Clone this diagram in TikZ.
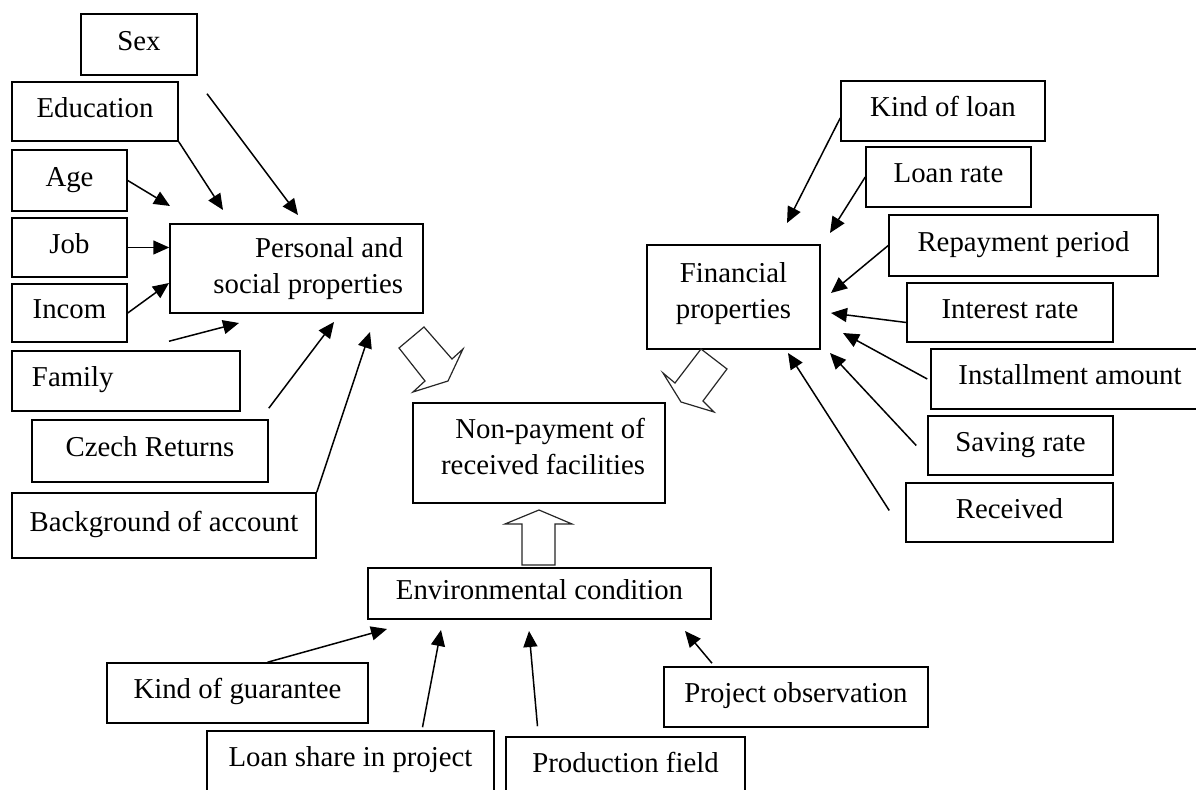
\documentclass[tikz,border=0pt]{standalone}
\usepackage{fontspec}
\setmainfont{Liberation Serif}
\usetikzlibrary{arrows.meta}
\tikzset{
    box/.style={draw, line width=0.75pt, inner sep=0pt, text height=0.7em, text depth=0.12em},
    twobox/.style={draw, line width=0.75pt, inner sep=0pt},
    sz/.style n args={2}{minimum width=#1*0.5pt, minimum height=#2*0.5pt},
    arr/.style={line width=0.75pt, -{Triangle[length=8pt,width=7pt]}},
    fat/.style={line width=0.6pt, draw=black!85, fill=white}
}
\begin{document}
\begin{tikzpicture}[x=0.5pt, y=-0.5pt, font=\fontsize{14.4}{18}\selectfont]
    \useasboundingbox (0,0) rectangle (1196,790);
    \clip (0,0) rectangle (1196,790);
    % personal side
    \node[box, sz={116}{61}] (sex) at (139,44.5) {Sex};
    \node[box, sz={166}{59}] (edu) at (95,111.5) {Education};
    \node[box, sz={115}{61}] (age) at (69.5,180.5) {Age};
    \node[box, sz={115}{59}] (job) at (69.5,247.5) {Job};
    \node[box, sz={115}{58}] (inc) at (69.5,313) {Incom};
    \node[box, sz={228}{60}, text width=94pt, align=flush left] (fam) at (126,381) {Family};
    \node[twobox, sz={253}{89}, text width=106.5pt, align=flush right] (pers) at (296.5,268.5) {Personal and\\social properties};
    \node[box, sz={236}{62}] (czech) at (150,451) {Czech Returns};
    \node[box, sz={304}{65}] (bg) at (164,525.5) {Background of account};
    % middle
    \node[twobox, sz={252}{100}, text width=106pt, align=flush right, text depth=24.8pt] (nonpay) at (539,453) {Non-payment of\\received facilities};
    \node[box, sz={343}{51}] (env) at (539.5,593.5) {Environmental condition};
    % financial side
    \node[twobox, sz={173}{104}, align=flush center, text depth=6.5pt] (fin) at (733.5,297) {Financial\\properties};
    \node[box, sz={204}{60}] (kloan) at (943,111) {Kind of loan};
    \node[box, sz={165}{60}] (lrate) at (948.5,177) {Loan rate};
    \node[box, sz={269}{61}] (repay) at (1023.5,245.5) {Repayment period};
    \node[box, sz={206}{59}] (irate) at (1010,312.5) {Interest rate};
    \node[box, sz={278}{60}] (inst) at (1070,379) {Installment amount};
    \node[box, sz={185}{59}] (srate) at (1020.5,445.5) {Saving rate};
    \node[box, sz={207}{59}] (recv) at (1009.5,512.5) {Received};
    % environment side
    \node[box, sz={261}{60}] (guar) at (237.5,693) {Kind of guarantee};
    \node[box, sz={287}{60}] (share) at (350.5,761) {Loan share in project};
    \node[box, sz={239}{60}] (prod) at (625.5,767) {Production field};
    \node[box, sz={264}{60}] (obs) at (796,697) {Project observation};
    % arrow tips
    \coordinate (tSex) at (298,215);
    \coordinate (tEdu) at (223,210);
    \coordinate (tAge) at (170,206);
    \coordinate (tInc) at (169,283);
    \coordinate (tFam) at (239,323);
    \coordinate (tCzech) at (334,322);
    \coordinate (tBg) at (370,332);
    \coordinate (tKloan) at (787,223);
    \coordinate (tLrate) at (830,233);
    \coordinate (tRepay) at (831,293);
    \coordinate (tIrate) at (831,313);
    \coordinate (tInst) at (843,333);
    \coordinate (tSrate) at (830,353);
    \coordinate (tRecv) at (788,353);
    \coordinate (tGuar) at (387,629);
    \coordinate (tShare) at (441,630);
    \coordinate (tProd) at (529,631);
    \coordinate (tObs) at (685,631);
    \draw[arr] ([xshift=34pt,yshift=-9pt]sex.south) -- (tSex);
    \draw[arr] (edu.south east) -- (tEdu);
    \draw[arr] (age.east) -- (tAge);
    \draw[arr] (job.east) -- (job.east -| pers.west);
    \draw[arr] (inc.east) -- (tInc);
    \draw[arr] ([xshift=21.5pt,yshift=4.5pt]fam.north) -- (tFam);
    \draw[arr] ([yshift=5.5pt]czech.north east) -- (tCzech);
    \draw[arr] (bg.north east) -- (tBg);
    \draw[arr] ([yshift=-3.5pt]kloan.west) -- (tKloan);
    \draw[arr] (lrate.west) -- (tLrate);
    \draw[arr] (repay.west) -- (tRepay);
    \draw[arr] ([yshift=-5pt]irate.west) -- (tIrate);
    \draw[arr] ([xshift=-1.5pt]inst.west) -- (tInst);
    \draw[arr] ([xshift=-5.5pt]srate.west) -- (tSrate);
    \draw[arr] ([xshift=-8pt,yshift=1pt]recv.west) -- (tRecv);
    \draw[arr] ([xshift=15pt]guar.north) -- (tGuar);
    \draw[arr] ([xshift=36pt,yshift=1.5pt]share.north) -- (tShare);
    \draw[arr] ([xshift=-44pt,yshift=5pt]prod.north) -- (tProd);
    \draw[arr] ([xshift=-42pt,yshift=1.5pt]obs.north) -- (tObs);
    % block arrows
    \draw[fat] (399,348) -- (424,327) -- (452,359) -- (463,349) -- (448,381) -- (413,392) -- (425,381) -- cycle;
    \draw[fat] (701,349) -- (727,369) -- (703,401) -- (714,412) -- (681,402) -- (663,373) -- (675,383) -- cycle;
    \draw[fat] (522,565) -- (522,524) -- (505,524) -- (539,510) -- (572,524) -- (555,524) -- (555,565) -- cycle;
\end{tikzpicture}
\end{document}
